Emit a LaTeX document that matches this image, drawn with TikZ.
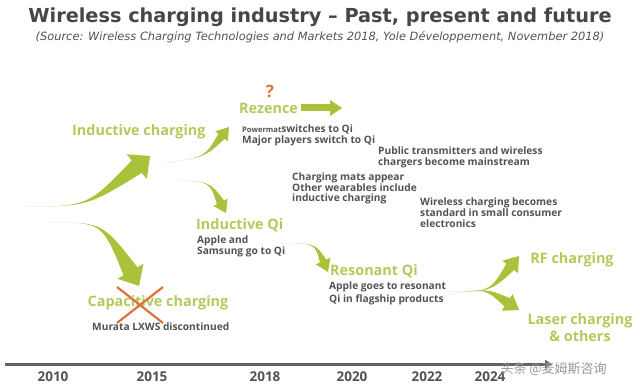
\documentclass[tikz,border=0pt]{standalone}
\usepackage{fontspec}
\setmainfont{Open Sans}
\newfontfamily\titlefont{DejaVu Sans}
\newfontfamily\cjkfont{Noto Sans CJK SC}
\usetikzlibrary{calc,arrows.meta}
\definecolor{leaf}{RGB}{168,194,58}
\definecolor{sprout}{RGB}{178,202,92}
\definecolor{ink}{RGB}{82,82,82}
\definecolor{rust}{RGB}{222,112,58}
\tikzstyle{title}=[font=\titlefont\bfseries\fontsize{19.3}{22}\selectfont,text=ink!85!black]
\tikzstyle{source}=[font=\titlefont\itshape\fontsize{11.4}{13}\selectfont,text=ink]
\tikzstyle{tech}=[font=\bfseries\fontsize{14.4}{17}\selectfont,text=sprout,inner sep=0pt]
\tikzstyle{note}=[font=\bfseries\fontsize{10.2}{10.8}\selectfont,text=ink,align=left,inner sep=0pt]
\tikzstyle{year}=[font=\bfseries\fontsize{13.5}{15}\selectfont,text=ink]
\tikzstyle{axis}=[draw=ink!90,line width=3pt,-{Triangle[width=8pt,length=7pt]}]
\tikzstyle{cross}=[draw=rust,line width=2.2pt]
% tapered green arrow: tail, control, tip, shaft half width, head half width, head length
\newcommand\swoosh[6]{%
  \coordinate (sw-b) at ($(#3)!#6!(#2)$);
  \fill[leaf] (#1) .. controls (#2) .. ($(sw-b)!#4!90:(#3)$)
    -- ($(sw-b)!#5!90:(#3)$) -- (#3) -- ($(sw-b)!#5!-90:(#3)$)
    -- ($(sw-b)!#4!-90:(#3)$) .. controls (#2) .. (#1) -- cycle;
}

\begin{document}
\begin{tikzpicture}[x=1pt,y=-1pt]
\useasboundingbox (0,0) rectangle (640,390);

\node[title] (title) at (320,17) {Wireless charging industry – Past, present and future};
\node[source] (src) at (320,37) {(Source: Wireless Charging Technologies and Markets 2018, Yole Développement, November 2018)};

% technologies
\node[tech,anchor=west] (ind) at (72,132) {Inductive charging};
\node[tech,anchor=west] (rez) at (239,108) {Rezence};
\node[tech,text=rust,font=\bfseries\fontsize{17}{19}\selectfont] (ask) at (270,91) {?};
\node[tech,anchor=west] (indqi) at (196,225) {Inductive Qi};
\node[tech,anchor=west] (resqi) at (330,271) {Resonant Qi};
\node[tech] (rf) at (572,260) {RF charging};
\node[tech,align=center,font=\bfseries\fontsize{14.4}{17}\selectfont] (laser) at (580,328) {Laser charging\\\& others};
\node[tech] (cap) at (158,303) {Capacitive charging};

% notes
\node[note,anchor=west] (pm) at (242,135.5) {{\fontsize{7.6}{8}\selectfont Powermat}switches to Qi\\Major players switch to Qi};
\node[note,anchor=west] (pub) at (378,157) {Public transmitters and wireless\\chargers become mainstream};
\node[note,anchor=west] (mats) at (292,188.5) {Charging mats appear\\Other wearables include\\inductive charging};
\node[note,anchor=west] (std) at (420,212.5) {Wireless charging becomes\\standard in small consumer\\electronics};
\node[note,anchor=west] (sams) at (197,246) {Apple and\\Samsung go to Qi};
\node[note,anchor=west,font=\bfseries\fontsize{10.2}{13}\selectfont] (flag) at (329,293.5) {Apple goes to resonant\\Qi in flagship products};
\node[note,anchor=west] (mur) at (92,327) {Murata LXWS discontinued};

% arrows
\coordinate (a1t) at (24,207);  \coordinate (a1h) at (150,156);
\coordinate (a2t) at (166,163); \coordinate (a2h) at (229,127);
\coordinate (a3t) at (177,180); \coordinate (a3h) at (226,213);
\coordinate (a4t) at (48,223);  \coordinate (a4h) at (139,286);
\coordinate (a5t) at (276,243); \coordinate (a5h) at (328,272);
\coordinate (a6t) at (442,292); \coordinate (a6h) at (519,256);
\coordinate (a7t) at (442,296); \coordinate (a7h) at (519,310);
\swoosh{a1t}{88,206}{a1h}{8pt}{16pt}{17pt}
\swoosh{a2t}{205,157}{a2h}{4pt}{8pt}{12pt}
\swoosh{a3t}{210,182}{a3h}{4pt}{8pt}{12pt}
\swoosh{a4t}{102,222}{a4h}{8pt}{15pt}{17pt}
\swoosh{a5t}{315,243}{a5h}{3.5pt}{8pt}{12pt}
\swoosh{a6t}{490,292}{a6h}{5pt}{10pt}{14pt}
\swoosh{a7t}{485,288}{a7h}{5pt}{10pt}{14pt}
\draw[leaf,line width=7pt,-{Triangle[width=15pt,length=12pt]}] ([xshift=3pt]rez.east) -- ++(41,0) coordinate (rezend);

% capacitive crossed out
\coordinate (xc) at (140,305);
\draw[cross] ($(xc)+(-23,-18)$) -- ($(xc)+(23,18)$);
\draw[cross] ($(xc)+(-23,18)$) -- ($(xc)+(23,-18)$);

% time axis
\coordinate (ax0) at (5,364); \coordinate (ax1) at (552,364);
\draw[axis] (ax0) -- (ax1);
\foreach \x/\yr in {53/2010, 152/2015, 265/2018, 352/2020, 427/2022, 490/2024}
  \node[year] (y\yr) at (\x,377) {\yr};

\node[anchor=west,text=ink!60,font=\cjkfont\fontsize{13}{15}\selectfont] (mark) at (497,369) {头条 @麦姆斯咨询};
\end{tikzpicture}
\end{document}
